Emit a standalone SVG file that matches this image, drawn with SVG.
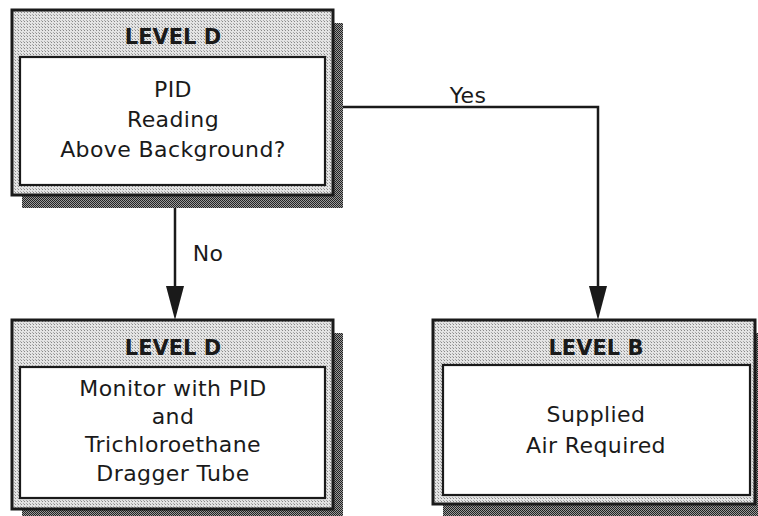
<svg xmlns="http://www.w3.org/2000/svg" width="758" height="516" viewBox="0 0 758 516">
<defs>
<pattern id="lt" width="3" height="3" patternUnits="userSpaceOnUse"><rect width="3" height="3" fill="#e4e4e4"/><rect width="1" height="1" fill="#888"/><rect x="2" y="2" width="1" height="1" fill="#aaa"/></pattern>
<pattern id="dk" width="2" height="2" patternUnits="userSpaceOnUse"><rect width="2" height="2" fill="#9a9a9a"/><rect width="1" height="1" fill="#222"/><rect x="1" y="1" width="1" height="1" fill="#222"/></pattern>
</defs>
<style>
.out{fill:url(#lt);stroke:#1a1a1a;stroke-width:3}
.in{fill:#fff;stroke:#1a1a1a;stroke-width:2.2}
.sh{fill:url(#dk)}
.hd{font-family:"DejaVu Sans","Liberation Sans",sans-serif;font-weight:bold;font-size:21px;fill:#1a1a1a;text-anchor:middle}
.tx{font-family:"DejaVu Sans","Liberation Sans",sans-serif;font-size:22px;letter-spacing:0.4px;fill:#1a1a1a;text-anchor:middle}
.ln{fill:none;stroke:#1a1a1a;stroke-width:2.5}
.ah{fill:#1a1a1a}
</style>
<rect width="758" height="516" fill="#fff"/>
<g id="connectors">
<path class="ln" d="M175,196 V286"/>
<path class="ah" d="M166,286 L184,286 L175,320 Z"/>
<path class="ln" d="M343,107 H598 V286"/>
<path class="ah" d="M589,286 L607,286 L598,320 Z"/>
<text class="tx" x="208" y="261">No</text>
<text class="tx" x="468" y="103">Yes</text>
</g>
<g id="node-top">
<rect class="sh" x="22" y="23" width="321" height="185"/>
<rect class="out" x="12" y="10" width="321" height="185"/>
<rect class="in" x="20" y="57" width="305" height="128"/>
<text class="hd" x="173" y="44">LEVEL D</text>
<text class="tx" x="173" y="97">PID</text>
<text class="tx" x="173" y="127">Reading</text>
<text class="tx" x="173" y="157">Above Background?</text>
</g>
<g id="node-left">
<rect class="sh" x="22" y="333" width="321" height="190"/>
<rect class="out" x="12" y="320" width="321" height="189"/>
<rect class="in" x="20" y="367" width="305" height="131"/>
<text class="hd" x="173" y="355">LEVEL D</text>
<text class="tx" x="173" y="396">Monitor with PID</text>
<text class="tx" x="173" y="424">and</text>
<text class="tx" x="173" y="452">Trichloroethane</text>
<text class="tx" x="173" y="481">Dragger Tube</text>
</g>
<g id="node-right">
<rect class="sh" x="443" y="333" width="330" height="190"/>
<rect class="out" x="433" y="320" width="322" height="184"/>
<rect class="in" x="443" y="365" width="307" height="130"/>
<text class="hd" x="596" y="355">LEVEL B</text>
<text class="tx" x="596" y="422">Supplied</text>
<text class="tx" x="596" y="453">Air Required</text>
</g>
</svg>
